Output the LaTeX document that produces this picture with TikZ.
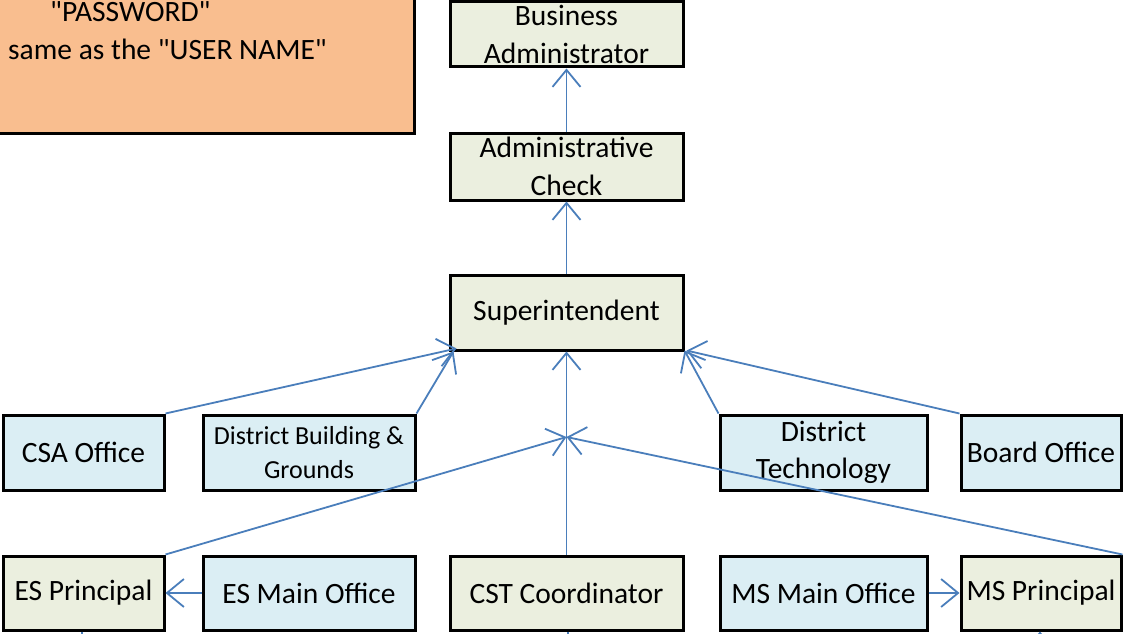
\documentclass[tikz,border=0pt]{standalone}
\usepackage{fontspec}
\setmainfont{Carlito}
\usetikzlibrary{arrows.meta,calc}
\definecolor{orangefill}{HTML}{F9BE8F}
\definecolor{greenfill}{HTML}{EBEFDF}
\definecolor{bluefill}{HTML}{DBEEF4}
\definecolor{linkblue}{HTML}{4A7EBB}
\tikzset{
  box/.style={draw=black, line width=3pt, inner sep=0pt, align=center,
    font=\fontsize{29.5}{37.5}\selectfont},
  gbox/.style={box, fill=greenfill},
  bbox/.style={box, fill=bluefill},
  obox/.style={box, fill=orangefill},
  link/.style={draw=linkblue, line width=1.8pt,
    -{Straight Barb[length=17pt,width=28pt,line width=1.8pt]}},
  plain/.style={draw=linkblue, line width=1.8pt},
  txt/.style={inner sep=0pt, font=\fontsize{29.5}{37.5}\selectfont}
}
\begin{document}
\begin{tikzpicture}[x=1pt,y=-1pt]
\useasboundingbox (0,0) rectangle (1128,634);
\clip (0,0) rectangle (1128,634);
% password box
\node[obox, minimum width=424pt, minimum height=143pt] (pw) at (202,61.5) {};
\node[txt, anchor=base west] (pw1) at (50,22) {\textquotedbl PASSWORD\textquotedbl};
\node[txt, anchor=base west] (pw2) at (8,60) {same as the \textquotedbl USER NAME\textquotedbl};
% top column
\node[gbox, minimum width=233pt, minimum height=65pt] (ba) at (566.5,34.5) {Business\\Administrator};
\node[gbox, minimum width=233pt, minimum height=67pt] (ac) at (566.5,166.5) {Administrative\\Check};
\node[gbox, minimum width=233pt, minimum height=75pt] (sup) at (566.5,312.5) {Superintendent};
% middle row
\node[bbox, minimum width=161pt, minimum height=75pt] (csa) at (83.5,452.5) {CSA Office};
\node[bbox, minimum width=212pt, minimum height=75pt, font=\fontsize{26}{34}\selectfont] (dbg) at (309,452.5) {District Building \&\\Grounds};
\node[bbox, minimum width=207pt, minimum height=75pt] (dt) at (823.5,452.5) {District\\Technology};
\node[bbox, minimum width=160pt, minimum height=75pt] (bo) at (1041,452.5) {Board Office};
% bottom row
\node[gbox, minimum width=161pt, minimum height=74pt] (esp) at (83.5,593) {ES Principal};
\node[bbox, minimum width=212pt, minimum height=74pt] (esm) at (309,593) {ES Main Office};
\node[gbox, minimum width=233pt, minimum height=74pt] (cst) at (566.5,593) {CST Coordinator};
\node[bbox, minimum width=207pt, minimum height=74pt] (msm) at (823.5,593) {MS Main Office};
\node[gbox, minimum width=160pt, minimum height=74pt] (msp) at (1041,593) {MS Principal};
% connectors
\coordinate (j) at (566.5,437);
\coordinate (esdown) at (82,660);
\coordinate (cstdown) at (568,660);
\coordinate (msdown) at (1040,660);
\draw[link] (ac.north) -- (ba.south);
\draw[link] (sup.north) -- (ac.south);
\draw[link] (csa.north east) -- ($(sup.south west)+(8,-3)$);
\draw[link] (dbg.north east) -- ($(sup.south west)+(5,0)$);
\draw[link] (dt.north west) -- ($(sup.south east)+(0,-1)$);
\draw[link] (bo.north west) -- ($(sup.south east)+(2,-1)$);
\draw[link] (cst.north) -- (sup.south);
\draw[link] (esp.north east) -- (j);
\draw[link] (msp.north east) -- (j);
\draw[link] (esm.west) -- (esp.east);
\draw[link] (msm.east) -- (msp.west);
\draw[plain] (esp.south -| esdown) -- (esdown);
\draw[plain] (cst.south -| cstdown) -- (cstdown);
\draw[link] (msdown) -- (msp.south -| msdown);
\end{tikzpicture}
\end{document}
